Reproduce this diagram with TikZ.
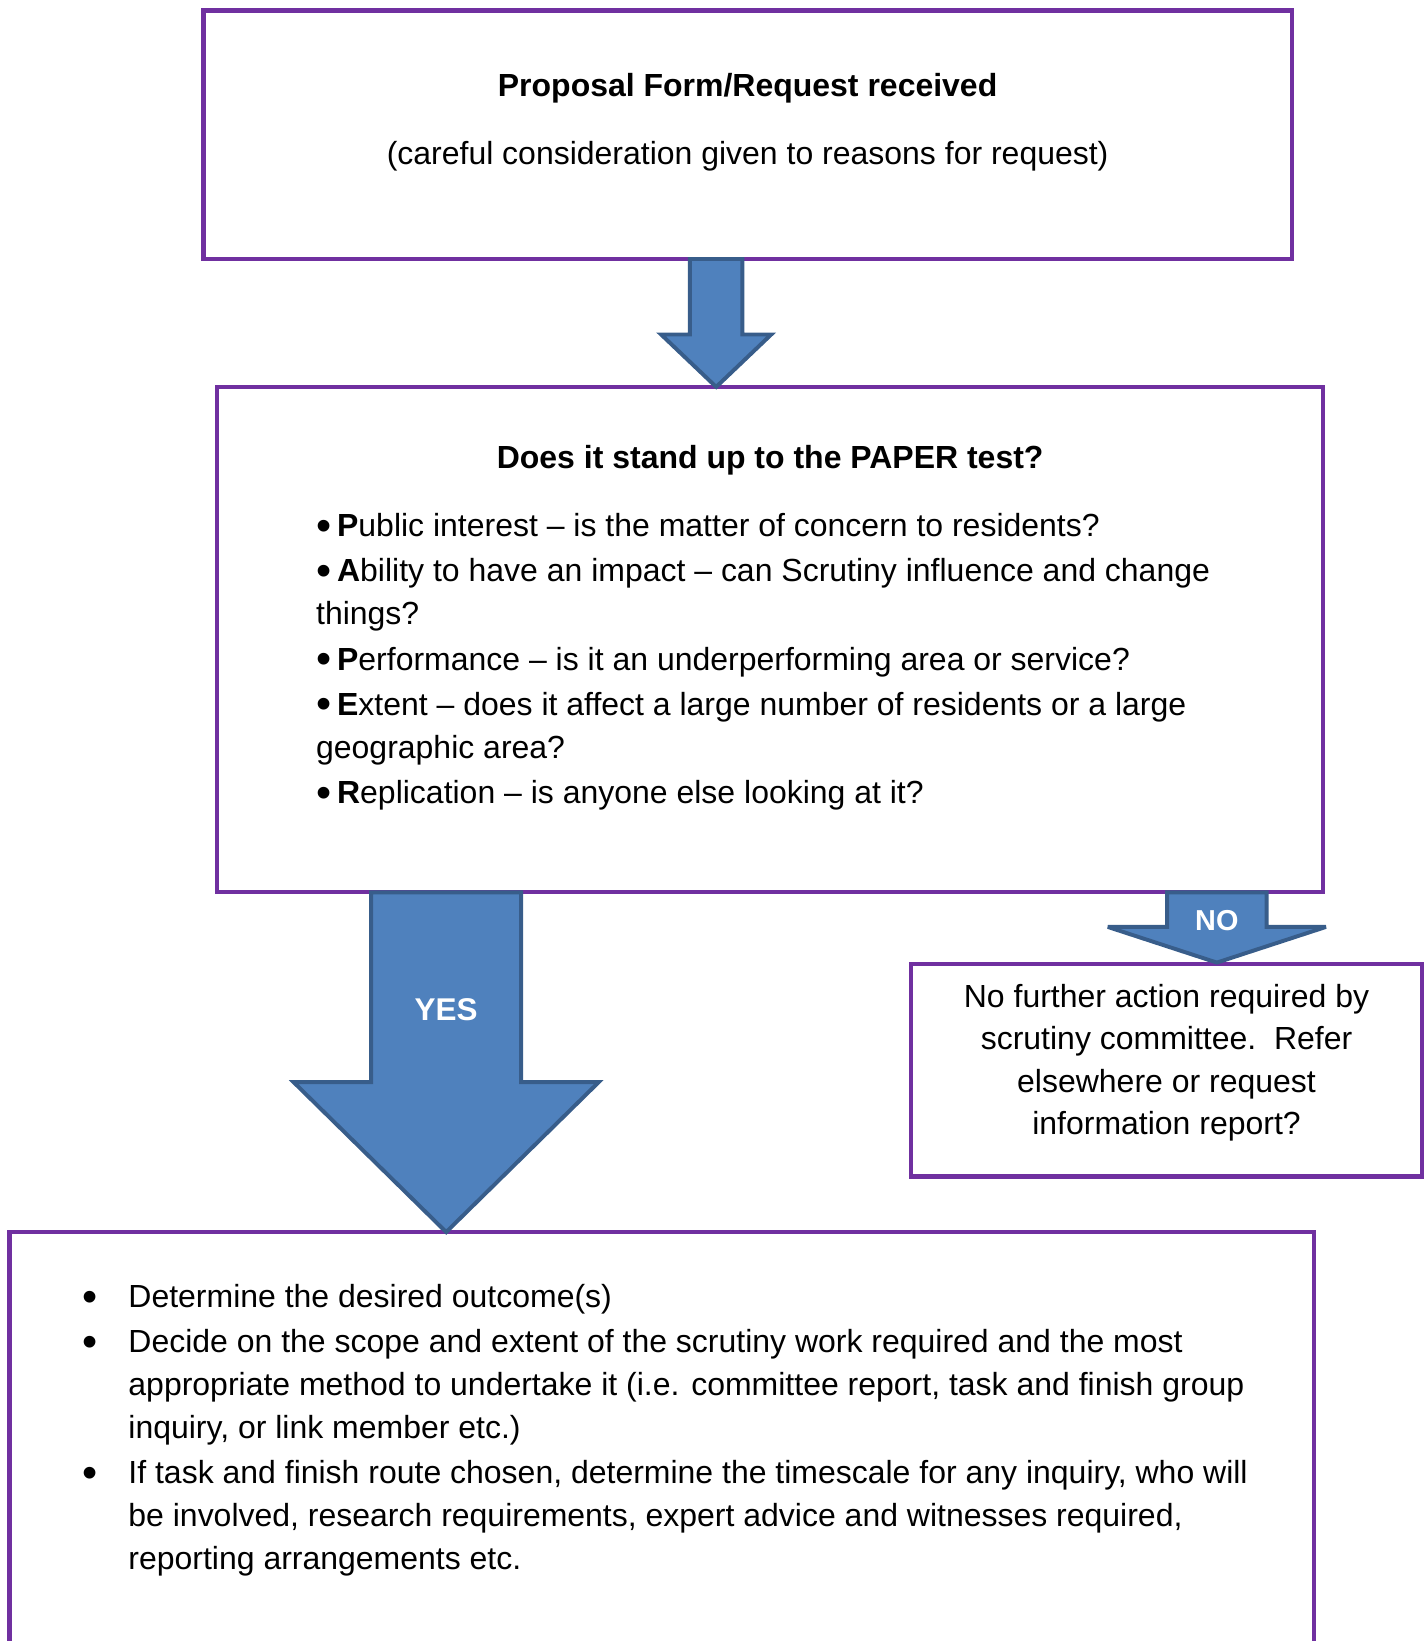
\documentclass[tikz,border=0pt]{standalone}
\usepackage{fontspec}
\setmainfont{Liberation Sans}
\usetikzlibrary{calc}
\definecolor{boxpurple}{HTML}{7030A0}
\definecolor{arrowfill}{HTML}{4F81BD}
\definecolor{arrowline}{HTML}{385D8A}
% down block arrow: #1 top-centre, #2 shaft half width, #3 shaft length, #4 head half width, #5 head length
\newcommand\downblockarrow[5]{%
  \path[blockarrow] (#1) ++(-#2,0) -- ++(2*#2,0) -- ++(0,#3) -- ++(#4-#2,0)
    -- ++(-#4,#5) -- ++(-#4,-#5) -- ++(#4-#2,0) -- cycle;}
\newcommand\bigbullet{\raisebox{-0.12em}{\scalebox{1.35}{•}}}
\begin{document}
\begin{tikzpicture}[x=0.4pt,y=-0.4pt,
  box/.style={draw=boxpurple, line width=1.6pt, rectangle, inner sep=0pt, outer sep=0pt},
  blockarrow/.style={fill=arrowfill, draw=arrowline, line width=1.5pt, line join=miter, miter limit=4},
  txt/.style={font=\fontsize{12.2pt}{16.4pt}\selectfont, inner sep=0pt},
  lbl/.style={text=white, inner sep=0pt}]
\useasboundingbox (0,0) rectangle (1360,1565);
\clip (0,0) rectangle (1360,1565);

% boxes
\node[box, minimum width=1038*0.4pt, minimum height=237*0.4pt] (top) at (713,128.5) {};
\node[box, minimum width=1055*0.4pt, minimum height=482*0.4pt] (paper) at (734.5,610) {};
\node[box, minimum width=487*0.4pt, minimum height=203*0.4pt] (nobox) at (1112.5,1020.5) {};
\node[box, minimum width=1244*0.4pt, minimum height=425*0.4pt] (outcome) at (631,1387.5) {};

% top box text
\node[txt, anchor=base] (t1) at (713,92) {\bfseries Proposal Form/Request received};
\node[txt, anchor=base] (t2) at (713,157) {(careful consideration given to reasons for request)};

% PAPER box text (base anchor = baseline of last line)
\node[txt, anchor=base] (p0) at (734.5,447) {\bfseries Does it stand up to the PAPER test?};
\node[txt, anchor=base west, align=left] (plist) at (301,766) {%
\makebox[8pt][l]{\bigbullet}\textbf{P}ublic interest – is the matter of concern to residents?\\[0.8pt]
\makebox[8pt][l]{\bigbullet}\textbf{A}bility to have an impact – can Scrutiny influence and change\\
things?\\[0.8pt]
\makebox[8pt][l]{\bigbullet}\textbf{P}erformance – is it an underperforming area or service?\\[0.8pt]
\makebox[8pt][l]{\bigbullet}\textbf{E}xtent – does it affect a large number of residents or a large\\
geographic area?\\[0.8pt]
\makebox[8pt][l]{\bigbullet}\textbf{R}eplication – is anyone else looking at it?};

% NO box text
\node[txt, anchor=base, align=center, font=\fontsize{12.2pt}{16.2pt}\selectfont] (ntext) at (1112.5,1082) {%
No further action required by\\
scrutiny committee.\ \ Refer\\
elsewhere or request\\
information report?};

% outcome box text
\node[txt, anchor=base west, align=left] (olist) at (78,1497) {%
\makebox[17.6pt][l]{\bigbullet}Determine the desired outcome(s)\\[0.8pt]
\makebox[17.6pt][l]{\bigbullet}Decide on the scope and extent of the scrutiny work required and the most\\
\hspace*{17.6pt}appropriate method to undertake it (i.e. committee report, task and finish group\\
\hspace*{17.6pt}inquiry, or link member etc.)\\[0.8pt]
\makebox[17.6pt][l]{\bigbullet}If task and finish route chosen, determine the timescale for any inquiry, who will\\
\hspace*{17.6pt}be involved, research requirements, expert advice and witnesses required,\\
\hspace*{17.6pt}reporting arrangements etc.};

% block arrows
\downblockarrow{$(top.south)+(-30,0)$}{25}{72}{52.5}{50}
\downblockarrow{$(paper.south)+(-309,0)$}{71.5}{181}{145.5}{143}
\downblockarrow{$(paper.south)+(426,0)$}{47.5}{33}{104}{34}

% arrow labels
\node[lbl, font=\fontsize{12pt}{14pt}\selectfont\bfseries] (yes) at (425.5,963) {YES};
\node[lbl, font=\fontsize{11pt}{13pt}\selectfont\bfseries] (no) at (1160.5,878) {NO};
\end{tikzpicture}
\end{document}
